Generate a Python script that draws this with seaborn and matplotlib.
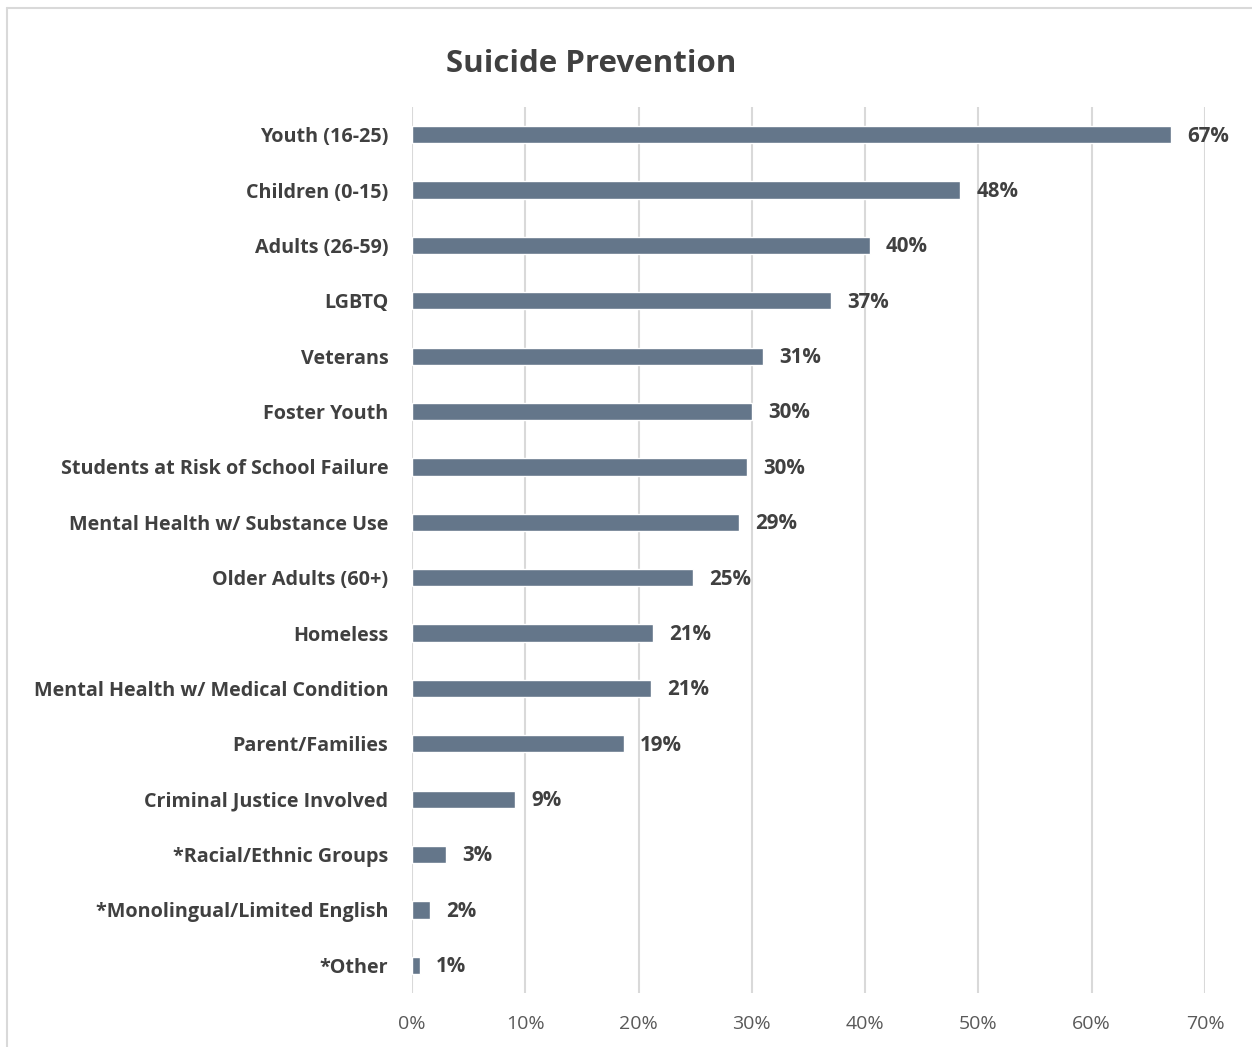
import matplotlib
matplotlib.use("Agg")
import matplotlib.pyplot as plt
import seaborn as sns
import pandas as pd
from matplotlib.lines import Line2D

categories = [
    "Youth (16-25)", "Children (0-15)", "Adults (26-59)", "LGBTQ", "Veterans",
    "Foster Youth", "Students at Risk of School Failure", "Mental Health w/ Substance Use",
    "Older Adults (60+)", "Homeless", "Mental Health w/ Medical Condition",
    "Parent/Families", "Criminal Justice Involved", "*Racial/Ethnic Groups",
    "*Monolingual/Limited English", "*Other",
]
values = [67.0, 48.4, 40.4, 37.0, 31.0, 30.0, 29.6, 28.9, 24.8, 21.3, 21.1, 18.7, 9.1, 3.0, 1.6, 0.7]
labels = ["67%", "48%", "40%", "37%", "31%", "30%", "30%", "29%", "25%", "21%", "21%", "19%", "9%", "3%", "2%", "1%"]
xticks = [0, 10, 20, 30, 40, 50, 60, 70]
title = "Suicide Prevention"

df = pd.DataFrame({"category": categories, "value": values})

sns.set_theme(style="white")
plt.rcParams["font.family"] = ["Open Sans", "DejaVu Sans"]

fig = plt.figure(figsize=(12.52, 10.47), dpi=100)
ax = fig.add_axes([412 / 1252, 1 - 993 / 1047, (1205 - 412) / 1252, (993 - 107) / 1047])

sns.barplot(data=df, x="value", y="category", orient="h", color="#64768a",
            width=0.31, saturation=1, ax=ax, zorder=3)

ax.set_xlim(0, 70)
ax.set_ylim(len(categories) - 0.5, -0.5)
ax.set_xticks(xticks)
ax.set_xticklabels([f"{t}%" for t in xticks], fontsize=14, color="#595959")
ax.tick_params(axis="x", length=0, pad=16)
ax.tick_params(axis="y", length=0, pad=17)
for lbl in ax.get_yticklabels():
    lbl.set_fontsize(14.2)
    lbl.set_fontweight("bold")
    lbl.set_color("#404040")
ax.set_xlabel("")
ax.set_ylabel("")
ax.grid(axis="x", color="#d9d9d9", linewidth=1.5, zorder=0)
ax.grid(axis="y", visible=False)
for s in ax.spines.values():
    s.set_visible(False)

for i, (v, t) in enumerate(zip(values, labels)):
    ax.annotate(t, xy=(v, i), xytext=(11.5, -1), textcoords="offset points",
                ha="left", va="center", fontsize=14.8, fontweight="bold", color="#404040")

fig.text(591 / 1252, 1 - 64 / 1047, title, ha="center", va="center",
         fontsize=22.5, fontweight="bold", color="#404040")

# chart frame
fig.add_artist(Line2D([7 / 1252, 7 / 1252], [0, 1 - 8 / 1047], transform=fig.transFigure,
                      color="#d9d9d9", linewidth=1.5))
fig.add_artist(Line2D([7 / 1252, 1], [1 - 8 / 1047, 1 - 8 / 1047], transform=fig.transFigure,
                      color="#d9d9d9", linewidth=1.5))

fig.savefig("out.png", dpi=100, facecolor="white")
